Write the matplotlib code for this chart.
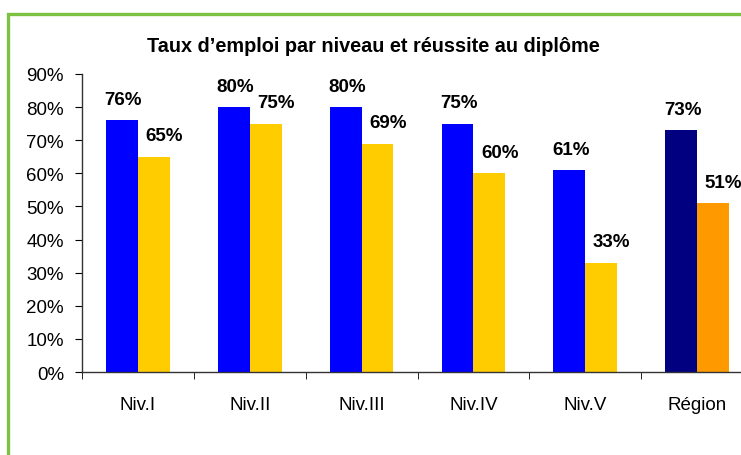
import matplotlib
matplotlib.use("Agg")
import matplotlib.pyplot as plt
from matplotlib.patches import Rectangle
import numpy as np

categories = ["Niv.I", "Niv.II", "Niv.III", "Niv.IV", "Niv.V", "Région"]
taux_emploi = [76, 80, 80, 75, 61, 73]
taux_reussite = [65, 75, 69, 60, 33, 51]
yticks = [0, 10, 20, 30, 40, 50, 60, 70, 80, 90]

plt.rcParams['font.family'] = ['Liberation Sans', 'DejaVu Sans']

fig = plt.figure(figsize=(7.41, 4.56), dpi=100)
fig.patch.set_facecolor("white")

# green frame
fig.patches.append(Rectangle((7.5/741, -0.2), 1.2, 1.2 - 14.5/456, transform=fig.transFigure,
                             fill=False, edgecolor="#7DC242", linewidth=2.4, zorder=0))

ax = fig.add_axes([82/741, 1-373/456, 671/741, (373-75)/456])
x = np.arange(len(categories))
w = 0.285
c1 = ["#0000FF"]*5 + ["#000080"]
c2 = ["#FFCC00"]*5 + ["#FF9900"]
b1 = ax.bar(x - w/2, taux_emploi, w, color=c1)
b2 = ax.bar(x + w/2, taux_reussite, w, color=c2)

for bars, vals, dx in ((b1, taux_emploi, 1), (b2, taux_reussite, 7.5)):
    for b, v in zip(bars, vals):
        ax.annotate(f"{v}%", (b.get_x() + b.get_width()/2, v), xytext=(dx, 9),
                    textcoords="offset points", ha="center", va="bottom",
                    fontsize=13.5, fontweight="bold", annotation_clip=False)

ax.set_xlim(-0.5, len(categories) - 0.5)
ax.set_ylim(0, 90)
ax.set_yticks(yticks)
ax.set_yticklabels([f"{t}%" for t in yticks], fontsize=13.5)
ax.set_xticks(x)
ax.set_xticklabels(categories, fontsize=13.5)
ax.tick_params(axis="x", length=0, pad=17)
ax.set_xticks(np.arange(len(categories)+1) - 0.5, minor=True)
ax.tick_params(axis="x", which="minor", length=5, direction="out")
ax.tick_params(axis="y", length=5, direction="out", pad=8)
for s in ("top", "right"):
    ax.spines[s].set_visible(False)
for s in ("left", "bottom"):
    ax.spines[s].set_color("#333333")
    ax.spines[s].set_linewidth(1.0)

fig.text(373/741, 1-46/456, "Taux d\u2019emploi par niveau et réussite au diplôme",
         ha="center", va="center", fontsize=14.3, fontweight="bold")

fig.savefig("out.png", dpi=100)
